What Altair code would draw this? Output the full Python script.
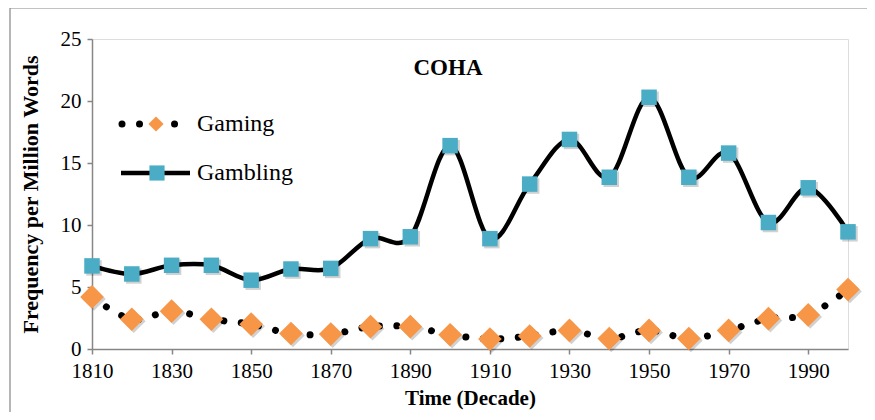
import altair as alt
import pandas as pd

decades = list(range(1810, 2001, 10))
gaming = [4.2, 2.4, 3.05, 2.4, 2.0, 1.25, 1.2, 1.8, 1.8, 1.15,
          0.8, 1.05, 1.5, 0.85, 1.5, 0.85, 1.5, 2.45, 2.75, 4.8]
gambling = [6.7, 6.05, 6.75, 6.75, 5.55, 6.45, 6.5, 8.9, 9.05, 16.4,
            8.9, 13.3, 16.9, 13.85, 20.3, 13.85, 15.8, 10.2, 13.0, 9.45]
x_ticks = list(range(1810, 1991, 20))
y_ticks = [0, 5, 10, 15, 20, 25]

FONT = "Liberation Serif"
AXIS_GRAY = "#868686"
TEAL = "#4BACC6"
ORANGE = "#F79646"

df = pd.DataFrame({"decade": decades, "gaming": gaming, "gambling": gambling})

xenc = alt.X(
    "decade:Q",
    scale=alt.Scale(domain=[1810, 2000], nice=False, zero=False),
    axis=alt.Axis(values=x_ticks, format="d", title="Time (Decade)", grid=False,
                  labelFont=FONT, labelFontSize=21, labelColor="black",
                  titleFont=FONT, titleFontSize=21, titleFontWeight="bold", titleColor="black",
                  titlePadding=6, labelPadding=6, tickSize=5, tickColor=AXIS_GRAY,
                  domainColor=AXIS_GRAY, domainWidth=1.5, tickWidth=1.5, labelFlush=False),
)


def yenc(field):
    return alt.Y(
        f"{field}:Q",
        scale=alt.Scale(domain=[0, 25], nice=False),
        axis=alt.Axis(values=y_ticks, title="Frequency per Million Words", grid=False,
                      labelFont=FONT, labelFontSize=21, labelColor="black",
                      titleFont=FONT, titleFontSize=22, titleFontWeight="bold", titleColor="black",
                      titlePadding=18, labelPadding=6, tickSize=5, tickColor=AXIS_GRAY,
                      domainColor=AXIS_GRAY, domainWidth=1.5, tickWidth=1.5),
    )


base = alt.Chart(df)

gaming_line = base.mark_line(
    interpolate="cardinal", color="black", strokeWidth=7,
    strokeDash=[0.01, 17.5], strokeCap="round"
).encode(x=xenc, y=yenc("gaming"))

gambling_line = base.mark_line(
    interpolate="cardinal", color="black", strokeWidth=4.5
).encode(x=xenc, y=yenc("gambling"))

diamond_shadow = base.mark_point(
    shape="diamond", filled=True, color="#000000", opacity=0.18, size=560,
    xOffset=2, yOffset=2
).encode(x=xenc, y=yenc("gaming"))
diamonds = base.mark_point(
    shape="diamond", filled=True, color=ORANGE, opacity=1, size=560
).encode(x=xenc, y=yenc("gaming"))

square_shadow = base.mark_point(
    shape="square", filled=True, color="#000000", opacity=0.18, size=240,
    xOffset=2, yOffset=2
).encode(x=xenc, y=yenc("gambling"))
squares = base.mark_point(
    shape="square", filled=True, color=TEAL, opacity=1, size=240
).encode(x=xenc, y=yenc("gambling"))

one = pd.DataFrame({"k": [0]})

title_mark = alt.Chart(pd.DataFrame({"t": ["COHA"]})).mark_text(
    font=FONT, fontSize=23, fontWeight="bold", color="black", align="center", baseline="middle"
).encode(text="t:N", x=alt.value(356), y=alt.value(29))

leg_dots = alt.Chart(one).mark_rule(
    color="black", strokeWidth=7, strokeDash=[0.01, 17.5], strokeCap="round"
).encode(x=alt.value(30), x2=alt.value(84), y=alt.value(85))
leg_diamond = alt.Chart(one).mark_point(
    shape="diamond", filled=True, color=ORANGE, opacity=1, size=230
).encode(x=alt.value(64), y=alt.value(85))
leg_line = alt.Chart(one).mark_rule(
    color="black", strokeWidth=4.5
).encode(x=alt.value(29), x2=alt.value(98), y=alt.value(134))
leg_square = alt.Chart(one).mark_point(
    shape="square", filled=True, color=TEAL, opacity=1, size=230
).encode(x=alt.value(65), y=alt.value(134))
leg_text1 = alt.Chart(pd.DataFrame({"t": ["Gaming"]})).mark_text(
    font=FONT, fontSize=24, color="black", align="left", baseline="middle"
).encode(text="t:N", x=alt.value(105), y=alt.value(85))
leg_text2 = alt.Chart(pd.DataFrame({"t": ["Gambling"]})).mark_text(
    font=FONT, fontSize=24, color="black", align="left", baseline="middle"
).encode(text="t:N", x=alt.value(105), y=alt.value(134))

frame = alt.Chart(one).mark_rect(
    fill=None, stroke=AXIS_GRAY, strokeWidth=1.2
).encode(x=alt.value(-82), x2=alt.value(777), y=alt.value(-31), y2=alt.value(377))

chart = alt.layer(
    frame, gaming_line, gambling_line, diamond_shadow, square_shadow, diamonds, squares,
    title_mark, leg_dots, leg_diamond, leg_line, leg_square, leg_text1, leg_text2
).properties(
    width=756, height=310,
    autosize=alt.AutoSizeParams(type="none"),
    padding={"left": 84, "top": 31, "right": 19, "bottom": 63},
).configure_view(stroke=None).configure(background="white")

chart.save("out.html", embed_options={"renderer": "svg", "actions": False})
